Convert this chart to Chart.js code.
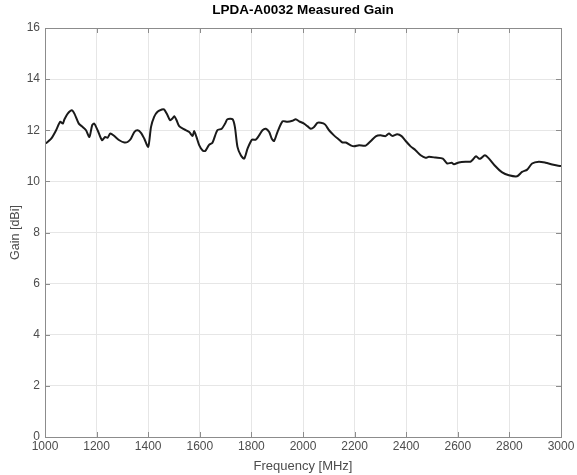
<!DOCTYPE html>
<html>
<head>
<meta charset="utf-8">
<script src="https://cdn.jsdelivr.net/npm/chart.js@4/dist/chart.umd.min.js"></script>
<style>
  html, body { margin: 0; padding: 0; background: #fff; }
  #wrap { width: 577px; height: 475px; }
</style>
</head>
<body>
<div id="wrap"><canvas id="c" width="577" height="475"></canvas></div>
<script>
const chartTitle = 'LPDA-A0032 Measured Gain';
const xTitle = 'Frequency [MHz]';
const yTitle = 'Gain [dBi]';
const xTicks = [1000, 1200, 1400, 1600, 1800, 2000, 2200, 2400, 2600, 2800, 3000];
const yTicks = [0, 2, 4, 6, 8, 10, 12, 14, 16];

const frequency = [
  1000, 1005, 1024, 1043, 1059, 1069, 1075, 1088, 1104, 1114, 1131, 1146, 1159, 1172, 1183, 1191,
  1204, 1221, 1233, 1243, 1253, 1269, 1288, 1308, 1320, 1333, 1346, 1359, 1372, 1385, 1400,
  1411, 1423, 1436, 1453, 1462, 1475, 1485, 1494, 1501, 1510, 1520, 1540, 1559, 1572, 1578,
  1587, 1598, 1611, 1621, 1636, 1649, 1668, 1685, 1698, 1707, 1727, 1736, 1746, 1759, 1772,
  1785, 1802, 1817, 1830, 1843, 1856, 1869, 1879, 1888, 1901, 1921, 1940, 1959, 1972, 1985,
  2004, 2017, 2030, 2043, 2056, 2069, 2085, 2101, 2120, 2140, 2153, 2166, 2185, 2198, 2217,
  2243, 2263, 2282, 2300, 2320, 2333, 2346, 2365, 2382, 2398, 2417, 2436, 2456, 2475, 2488,
  2514, 2542, 2559, 2576, 2585, 2604, 2630, 2649, 2656, 2671, 2682, 2688, 2705, 2721, 2746,
  2772, 2798, 2830, 2849, 2869, 2888, 2914, 2940, 2966, 2985, 3000
];
const gain = [
  11.48, 11.50, 11.67, 12.00, 12.33, 12.26, 12.42, 12.65, 12.78, 12.65, 12.26, 12.13, 12.00, 11.74, 12.20, 12.26,
  12.00, 11.61, 11.74, 11.71, 11.87, 11.77, 11.61, 11.52, 11.54, 11.67, 11.93, 12.00, 11.90, 11.67, 11.35,
  12.13, 12.52, 12.72, 12.81, 12.81, 12.59, 12.39, 12.46, 12.55, 12.39, 12.16, 12.03, 11.93, 11.77, 11.97,
  11.74, 11.41, 11.21, 11.19, 11.43, 11.51, 12.00, 12.06, 12.26, 12.43, 12.43, 12.13, 11.35, 11.02, 10.89,
  11.28, 11.63, 11.63, 11.80, 12.00, 12.06, 11.93, 11.67, 11.58, 11.93, 12.35, 12.33, 12.37, 12.43, 12.35,
  12.26, 12.16, 12.06, 12.13, 12.29, 12.29, 12.23, 12.00, 11.80, 11.63, 11.52, 11.52, 11.41, 11.37, 11.41,
  11.40, 11.58, 11.76, 11.80, 11.77, 11.87, 11.78, 11.84, 11.77, 11.58, 11.37, 11.22, 11.02, 10.92, 10.96,
  10.93, 10.89, 10.70, 10.73, 10.67, 10.74, 10.77, 10.77, 10.83, 10.98, 10.89, 10.89, 11.02, 10.89, 10.59,
  10.35, 10.24, 10.20, 10.37, 10.46, 10.70, 10.77, 10.73, 10.66, 10.62, 10.60
];

const points = frequency.map((f, i) => ({ x: f, y: gain[i] }));

const centerTitle = {
  id: 'centerTitle',
  afterLayout(chart) {
    if (chart.titleBlock) {
      chart.titleBlock.left = chart.chartArea.left;
      chart.titleBlock.right = chart.chartArea.right;
    }
  }
};

const boxAndTicks = {
  id: 'boxAndTicks',
  afterDatasetsDraw(chart) {
    const { ctx, chartArea: a, scales } = chart;
    const len = 5;
    ctx.save();
    ctx.strokeStyle = '#8c8c8c';
    ctx.lineWidth = 1;
    ctx.beginPath();
    xTicks.forEach(v => {
      const px = Math.round(scales.x.getPixelForValue(v)) + 0.5;
      ctx.moveTo(px, a.bottom); ctx.lineTo(px, a.bottom - len);
      ctx.moveTo(px, a.top); ctx.lineTo(px, a.top + len);
    });
    yTicks.forEach(v => {
      const py = Math.round(scales.y.getPixelForValue(v)) + 0.5;
      ctx.moveTo(a.left, py); ctx.lineTo(a.left + len, py);
      ctx.moveTo(a.right, py); ctx.lineTo(a.right - len, py);
    });
    ctx.stroke();
    ctx.strokeRect(Math.round(a.left) + 0.5, Math.round(a.top) + 0.5,
                   Math.round(a.right - a.left), Math.round(a.bottom - a.top));
    ctx.restore();
  }
};

const fontFamily = "'Liberation Sans', Arial, sans-serif";

new Chart(document.getElementById('c'), {
  type: 'line',
  data: {
    datasets: [{
      data: points,
      borderColor: '#1a1a1a',
      borderWidth: 2,
      pointRadius: 0,
      tension: 0.25,
      fill: false
    }]
  },
  options: {
    responsive: false,
    animation: false,
    layout: { padding: { left: 0, right: 16, top: 0, bottom: 0 } },
    plugins: {
      legend: { display: false },
      tooltip: { enabled: false },
      title: {
        display: true,
        text: chartTitle,
        color: '#000',
        font: { family: fontFamily, size: 13.5, weight: 'bold' },
        padding: { top: 2, bottom: 9.8 }
      }
    },
    scales: {
      x: {
        type: 'linear',
        min: 1000,
        max: 3000,
        afterBuildTicks(scale) { scale.ticks = xTicks.map(v => ({ value: v })); },
        afterFit(scale) { scale.height = 38; },
        ticks: {
          color: '#4d4d4d',
          font: { family: fontFamily, size: 12 },
          padding: 2,
          maxRotation: 0,
          autoSkip: false,
          callback: v => String(v)
        },
        grid: { color: '#e6e6e6', lineWidth: 1, drawTicks: false, tickLength: 0 },
        border: { display: false },
        title: {
          display: true,
          text: xTitle,
          color: '#4d4d4d',
          font: { family: fontFamily, size: 13 },
          padding: { top: 0, bottom: 1 }
        }
      },
      y: {
        type: 'linear',
        min: 0,
        max: 16,
        afterBuildTicks(scale) { scale.ticks = yTicks.map(v => ({ value: v })); },
        afterFit(scale) { scale.width = 45; },
        ticks: {
          color: '#4d4d4d',
          font: { family: fontFamily, size: 12 },
          padding: 5,
          autoSkip: false,
          callback: v => String(v)
        },
        grid: { color: '#e6e6e6', lineWidth: 1, drawTicks: false, tickLength: 0 },
        border: { display: false },
        title: {
          display: true,
          text: yTitle,
          color: '#4d4d4d',
          font: { family: fontFamily, size: 12.5 },
          padding: { top: 8, bottom: 0 }
        }
      }
    }
  },
  plugins: [centerTitle, boxAndTicks]
});
</script>
</body>
</html>
